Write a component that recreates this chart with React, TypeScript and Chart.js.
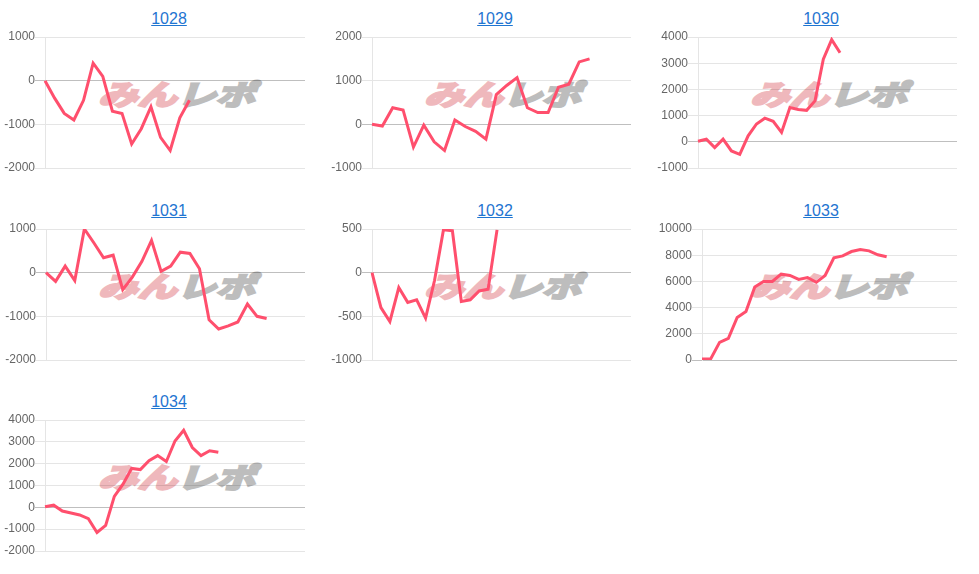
import React, { useEffect, useRef } from "react";
import { Chart, registerables } from "chart.js";

Chart.register(...registerables);

// ---- data ----
const titles = ["1028", "1029", "1030", "1031", "1032", "1033", "1034"];

const s1028 = [0, -400, -750, -900, -450, 400, 100, -700, -750, -1450, -1100, -600, -1300, -1600, -850, -450];
const s1029 = [0, -40, 380, 330, -520, -20, -400, -600, 100, -50, -160, -340, 680, 890, 1070, 380, 270, 270, 850, 920, 1430, 1500];
const s1030 = [20, 100, -220, 100, -350, -480, 230, 680, 900, 780, 360, 1310, 1230, 1200, 1560, 3150, 3900, 3400];
const s1031 = [0, -200, 150, -180, 1000, 680, 340, 400, -390, -100, 260, 740, 30, 150, 470, 440, 90, -1080, -1290, -1220, -1130, -720, -1000, -1050];
const s1032 = [0, -400, -560, -170, -340, -310, -520, -90, 490, 480, -330, -310, -210, -190, 490];
const s1033 = [80, 100, 1350, 1650, 3250, 3700, 5570, 6000, 6000, 6550, 6450, 6150, 6300, 5930, 6450, 7800, 7950, 8280, 8430, 8330, 8030, 7880];
const s1034 = [30, 100, -170, -260, -350, -520, -1150, -830, 500, 1060, 1780, 1730, 2140, 2370, 2100, 3040, 3530, 2740, 2370, 2590, 2520];

const seriesList = [s1028, s1029, s1030, s1031, s1032, s1033, s1034];

// number of x categories per chart (x axis labels are hidden)
const xCounts = [28, 26, 32, 28, 30, 30, 31];

// y axis tick ranges
const yMins = [-2000, -1000, -1000, -2000, -1000, 0, -2000];
const yMaxs = [1000, 2000, 4000, 1000, 500, 10000, 4000];
const ySteps = [1000, 1000, 1000, 1000, 500, 2000, 1000];

// ---- layout ----
const colLefts = [0, 326, 652];
const rowTops = [0, 192, 383];
const axisWidths = [45, 46, 46, 46, 46, 50, 45];

const LINE_COLOR = "#ff4f6d";
const TITLE_COLOR = "#1f75d1";
const FONT = "Arial, 'Liberation Sans', sans-serif";

type MiniProps = {
  idx: number;
  left: number;
  top: number;
};

function MiniChart({ idx, left, top }: MiniProps) {
  const ref = useRef<HTMLCanvasElement | null>(null);

  useEffect(() => {
    if (!ref.current) return;
    const labels = Array.from({ length: xCounts[idx] }, (_, i) => String(i + 1));
    const axisW = axisWidths[idx];
    const chart = new Chart(ref.current, {
      type: "line",
      data: {
        labels,
        datasets: [
          {
            data: seriesList[idx],
            borderColor: LINE_COLOR,
            backgroundColor: LINE_COLOR,
            borderWidth: 3,
            pointRadius: 0,
            pointHoverRadius: 0,
            tension: 0,
            fill: false,
          },
        ],
      },
      options: {
        animation: false,
        responsive: false,
        events: [],
        layout: { padding: { top: 10, bottom: 10, left: 0, right: 10 } },
        plugins: {
          legend: { display: false },
          tooltip: { enabled: false },
          title: { display: false },
        },
        scales: {
          x: { display: false, offset: false },
          y: {
            min: yMins[idx],
            max: yMaxs[idx],
            ticks: {
              stepSize: ySteps[idx],
              color: "#666",
              padding: 0,
              font: { size: 12, family: FONT },
              callback: (v: any) => String(v),
            },
            grid: {
              color: (ctx: any) =>
                ctx.tick && ctx.tick.value === 0 ? "rgba(0,0,0,0.25)" : "rgba(0,0,0,0.1)",
              tickLength: 10,
              lineWidth: 1,
            },
            border: { display: true, color: "rgba(0,0,0,0.1)" },
            afterFit: (scale: any) => {
              scale.width = axisW;
            },
          },
        },
      },
    });
    return () => chart.destroy();
  }, [idx]);

  return (
    <>
      <div
        style={{
          position: "absolute",
          left,
          top: top + 10,
          width: 338,
          textAlign: "center",
          fontFamily: FONT,
          fontSize: 16,
          lineHeight: "18px",
          color: TITLE_COLOR,
          textDecoration: "underline",
        }}
      >
        {titles[idx]}
      </div>
      <div
        style={{
          position: "absolute",
          left: left + 108,
          top: top + 77,
          height: 32,
          fontFamily: "'Noto Sans CJK JP', sans-serif",
          fontWeight: 700,
          fontSize: 28,
          lineHeight: "32px",
          whiteSpace: "nowrap",
          transform: "scaleX(1.4) skewX(-14deg)",
          transformOrigin: "left top",
        }}
      >
        <span style={{ color: "#efb8bc", WebkitTextStroke: "2.5px #efb8bc" } as any}>みん</span>
        <span style={{ color: "#bdbdbd", WebkitTextStroke: "2.5px #bdbdbd" } as any}>レポ</span>
      </div>
      <canvas
        ref={ref}
        width={315}
        height={151}
        style={{ position: "absolute", left, top: top + 27, width: 315, height: 151 }}
      />
    </>
  );
}

export default function App() {
  return (
    <div
      style={{
        position: "absolute",
        left: 0,
        top: 0,
        width: 979,
        height: 574,
        background: "#fff",
        overflow: "hidden",
      }}
    >
      {titles.map((_, i) => (
        <MiniChart key={i} idx={i} left={colLefts[i % 3]} top={rowTops[Math.floor(i / 3)]} />
      ))}
    </div>
  );
}
